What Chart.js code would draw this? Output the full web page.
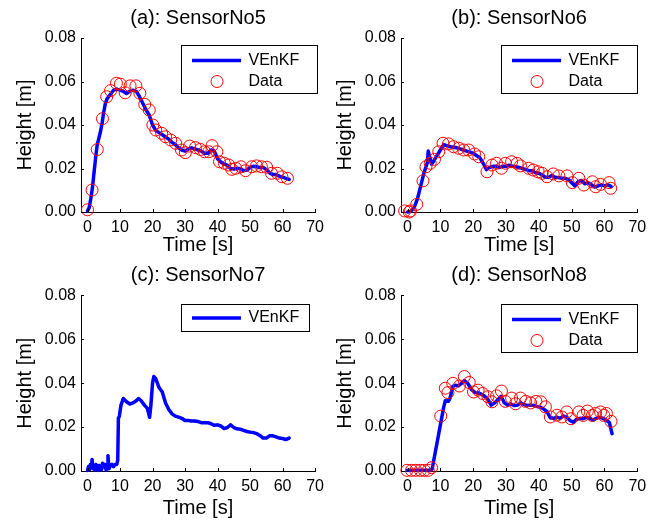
<!DOCTYPE html>
<html>
<head>
<meta charset="utf-8">
<script src="https://cdn.jsdelivr.net/npm/chart.js@4.4.1/dist/chart.umd.min.js"></script>
<style>
  body { margin: 0; background: #fff; }
  #wrap { position: relative; width: 659px; height: 525px; overflow: hidden; background: #fff; }
  canvas { position: absolute; }
</style>
</head>
<body>
<div id="wrap">
  <canvas id="chartA" width="330" height="262" style="left:0;top:0"></canvas>
  <canvas id="chartB" width="339" height="262" style="left:320px;top:0"></canvas>
  <canvas id="chartC" width="330" height="263" style="left:0;top:262px"></canvas>
  <canvas id="chartD" width="339" height="263" style="left:320px;top:262px"></canvas>
</div>
<script>
const xTicks = [0, 10, 20, 30, 40, 50, 60, 70];
const yTicks = [0, 0.02, 0.04, 0.06, 0.08];

// (a) SensorNo5
const lineTimeA = [0, 0.5, 1, 1.5, 2, 2.5, 3, 3.5, 4, 4.5, 5, 5.5, 6, 7, 8, 9, 10, 11, 12, 13, 14, 15, 16, 17, 18, 19, 20, 21, 22, 23, 24, 25, 26, 27, 28, 29, 30, 31, 32, 33, 34, 35, 36, 37, 38, 39, 40, 41, 42, 43, 44, 45, 46, 47, 48, 49, 50, 51, 52, 53, 54, 55, 56, 57, 58, 59, 60, 61, 62];
const lineA = [0.0005, 0.002, 0.006, 0.011, 0.018, 0.025, 0.031, 0.034, 0.037, 0.041, 0.046, 0.050, 0.052, 0.054, 0.056, 0.0565, 0.056, 0.0555, 0.0545, 0.0555, 0.056, 0.0555, 0.053, 0.050, 0.047, 0.0445, 0.040, 0.0375, 0.0365, 0.0355, 0.0345, 0.0335, 0.032, 0.031, 0.0295, 0.0285, 0.028, 0.029, 0.0295, 0.029, 0.0285, 0.028, 0.027, 0.027, 0.0285, 0.028, 0.0245, 0.023, 0.022, 0.0215, 0.020, 0.0198, 0.020, 0.020, 0.019, 0.0192, 0.0205, 0.021, 0.0208, 0.0205, 0.0205, 0.0195, 0.018, 0.0172, 0.0172, 0.0165, 0.016, 0.0155, 0.015];
const dataTimeA = [0, 1.4, 3.0, 4.6, 5.9, 7.1, 8.9, 10.1, 11.6, 13.1, 14.9, 16.1, 17.6, 19.0, 20.1, 21.0, 22.8, 24.0, 25.6, 27.1, 28.9, 30.1, 31.4, 33.2, 34.7, 36.0, 37.3, 38.3, 39.8, 40.6, 42.1, 43.4, 44.4, 45.6, 47.2, 48.6, 50.5, 52.0, 53.5, 55.1, 56.6, 58.4, 59.8, 61.5];
const dataA = [0.001, 0.0101, 0.0287, 0.0429, 0.053, 0.0558, 0.0592, 0.0588, 0.0548, 0.058, 0.058, 0.0546, 0.0495, 0.0469, 0.040, 0.0377, 0.0362, 0.0346, 0.0331, 0.0316, 0.0285, 0.0273, 0.0303, 0.0296, 0.0288, 0.0277, 0.0277, 0.0305, 0.0277, 0.0231, 0.0224, 0.0216, 0.0196, 0.0201, 0.0208, 0.019, 0.0208, 0.0212, 0.0208, 0.0206, 0.0178, 0.0178, 0.0162, 0.0155];

// (b) SensorNo6
const lineTimeB = [0, 1, 2, 3, 4, 5, 6, 6.3, 6.8, 7.3, 8, 9, 10, 11, 12, 13, 14, 15, 16, 17, 18, 19, 20, 21, 22, 23, 24, 25, 26, 27, 28, 29, 30, 31, 32, 33, 34, 35, 36, 37, 38, 39, 40, 41, 42, 43, 44, 45, 46, 47, 48, 49, 50, 51, 52, 53, 54, 55, 56, 57, 58, 59, 60, 61, 62];
const lineB = [0.0, 0.0003, 0.002, 0.006, 0.012, 0.018, 0.0225, 0.028, 0.025, 0.022, 0.0235, 0.026, 0.0285, 0.031, 0.0305, 0.030, 0.0298, 0.0295, 0.029, 0.0285, 0.028, 0.0275, 0.027, 0.026, 0.025, 0.0225, 0.0195, 0.0205, 0.021, 0.021, 0.0205, 0.021, 0.021, 0.0215, 0.021, 0.0208, 0.0205, 0.020, 0.0195, 0.019, 0.019, 0.018, 0.0178, 0.017, 0.016, 0.016, 0.0168, 0.016, 0.0158, 0.0155, 0.0155, 0.015, 0.0135, 0.012, 0.014, 0.0145, 0.013, 0.0135, 0.0125, 0.0115, 0.012, 0.0125, 0.012, 0.0125, 0.0118];
const dataTimeB = [-0.9, 0.5, 0.9, 2.8, 4.7, 5.6, 6.9, 8.2, 9.5, 10.8, 12.5, 14.0, 15.6, 17.1, 18.6, 20.4, 21.7, 24.2, 25.7, 27.1, 28.6, 29.8, 31.7, 33.4, 34.4, 36.9, 38.3, 39.8, 41.0, 42.5, 44.4, 46.1, 48.6, 50.2, 52.2, 53.7, 56.3, 57.3, 58.8, 61.4, 61.9];
const dataB = [0.0005, 0, 0.0005, 0.0035, 0.0143, 0.0208, 0.0224, 0.0242, 0.0277, 0.0316, 0.0313, 0.030, 0.0293, 0.0285, 0.0285, 0.0267, 0.0254, 0.0185, 0.0216, 0.0224, 0.0201, 0.0224, 0.0231, 0.0224, 0.0212, 0.0201, 0.0193, 0.0185, 0.0178, 0.0162, 0.0175, 0.0166, 0.0166, 0.0135, 0.0155, 0.0124, 0.0139, 0.0116, 0.0127, 0.0135, 0.0109];

// (c) SensorNo7 (no measured data)
const lineTimeC = [0, 0.3, 0.6, 0.9, 1.2, 1.4, 1.7, 2.0, 2.3, 2.6, 3.0, 3.3, 3.6, 4.0, 4.3, 4.6, 5.0, 5.3, 5.7, 6.0, 6.3, 6.6, 7.0, 7.5, 8.0, 8.5, 9.0, 9.3, 9.5, 9.8, 10.3, 11, 12, 13, 14, 15, 15.7, 16.5, 17.5, 18.4, 19.1, 19.5, 20.0, 20.4, 21, 22, 23, 24, 25, 26, 27, 28, 29, 30, 31, 32, 33, 34, 35, 36, 37, 38, 39, 40, 41, 42, 43, 44, 45, 46, 47, 48, 49, 50, 51, 52, 53, 54, 55, 56, 57, 58, 59, 60, 61, 62];
const lineC = [0.0003, 0.002, 0.0005, 0.003, 0.0015, 0.0052, 0.001, 0.002, 0.0005, 0.003, 0.002, 0.0003, 0.0025, 0.002, 0.0005, 0.0035, 0.002, 0.003, 0.0005, 0.003, 0.007, 0.001, 0.0025, 0.003, 0.002, 0.003, 0.003, 0.005, 0.024, 0.025, 0.030, 0.033, 0.0315, 0.0305, 0.031, 0.032, 0.033, 0.032, 0.030, 0.0285, 0.0245, 0.030, 0.040, 0.043, 0.042, 0.038, 0.036, 0.031, 0.028, 0.026, 0.025, 0.0245, 0.024, 0.023, 0.023, 0.0228, 0.0228, 0.0225, 0.022, 0.022, 0.022, 0.0215, 0.0208, 0.021, 0.0205, 0.0193, 0.0198, 0.021, 0.0198, 0.0192, 0.019, 0.0185, 0.018, 0.0177, 0.0175, 0.017, 0.0162, 0.015, 0.015, 0.016, 0.016, 0.0155, 0.015, 0.0148, 0.0143, 0.015];

// (d) SensorNo8
const lineTimeD = [0, 2, 4, 6, 7, 7.5, 8, 9, 10, 11, 11.5, 12.5, 13, 13.8, 14.5, 15.5, 16.5, 17.3, 18.3, 19.5, 20.5, 21.5, 22.5, 23.5, 24.5, 25.5, 26.5, 27.5, 28.5, 29.5, 30.5, 31.5, 32.5, 33.5, 34.5, 35.5, 36.5, 37.5, 38.5, 39.5, 40.5, 41.5, 42.5, 43.5, 44.5, 45.5, 46.5, 47.5, 48.5, 49.5, 50.5, 51.5, 52.5, 53.5, 54.5, 55.5, 56.5, 57.5, 58.5, 59.5, 60.5, 61.5, 62.3];
const lineD = [0.0003, 0.0003, 0.0003, 0.0003, 0.0004, 0.001, 0.005, 0.013, 0.021, 0.029, 0.032, 0.0318, 0.0335, 0.0385, 0.039, 0.0388, 0.040, 0.0412, 0.040, 0.037, 0.0358, 0.0355, 0.035, 0.034, 0.0325, 0.030, 0.031, 0.0325, 0.034, 0.031, 0.030, 0.0305, 0.0298, 0.030, 0.031, 0.0302, 0.0298, 0.030, 0.0298, 0.0293, 0.029, 0.0282, 0.027, 0.0242, 0.024, 0.0245, 0.024, 0.025, 0.0245, 0.023, 0.0222, 0.0235, 0.024, 0.0238, 0.0245, 0.024, 0.0232, 0.024, 0.0245, 0.024, 0.0232, 0.022, 0.017];
const dataTimeD = [-0.2, 1.2, 2.5, 3.9, 5.1, 6.3, 7.3, 10.1, 11.5, 12.3, 13.8, 15.8, 17.3, 18.8, 20.1, 21.5, 22.9, 24.5, 25.7, 27.1, 28.6, 29.8, 31.7, 32.9, 34.4, 36.0, 37.5, 39.1, 40.6, 42.0, 43.5, 45.5, 47.0, 48.5, 49.8, 52.2, 53.5, 54.8, 56.3, 57.3, 58.8, 59.8, 60.6, 62.0];
const dataD = [0.0003, 0.0003, 0.0003, 0.0003, 0.0003, 0.0003, 0.0015, 0.025, 0.0377, 0.0357, 0.0399, 0.0387, 0.0430, 0.0403, 0.0360, 0.0368, 0.0353, 0.0338, 0.0315, 0.0342, 0.0364, 0.0317, 0.0332, 0.0306, 0.0332, 0.0317, 0.0310, 0.0317, 0.0315, 0.0292, 0.0246, 0.0254, 0.0246, 0.0269, 0.0238, 0.0269, 0.0253, 0.0273, 0.0253, 0.0262, 0.0269, 0.0253, 0.0262, 0.0226];

const FONT = '"Liberation Sans", Arial, sans-serif';

function toPoints(ts, vs) {
  return ts.map((t, i) => ({ x: t, y: vs[i] }));
}

// title above each panel
const panelTitle = {
  id: "panelTitle",
  afterDraw(chart, args, opts) {
    const { ctx, chartArea } = chart;
    ctx.save();
    ctx.fillStyle = "#000";
    ctx.font = "20px " + FONT;
    ctx.textAlign = "center";
    ctx.textBaseline = "middle";
    ctx.fillText(opts.text, (chartArea.left + chartArea.right) / 2, opts.y);
    ctx.restore();
  },
};

// inward tick marks like matlab
const inwardTicks = {
  id: "inwardTicks",
  afterDatasetsDraw(chart) {
    const { ctx, chartArea, scales } = chart;
    ctx.save();
    ctx.strokeStyle = "#000";
    ctx.lineWidth = 1;
    ctx.beginPath();
    scales.x.ticks.forEach((t) => {
      const px = Math.round(scales.x.getPixelForValue(t.value)) + 0.5;
      ctx.moveTo(px, chartArea.bottom);
      ctx.lineTo(px, chartArea.bottom - 3);
    });
    scales.y.ticks.forEach((t) => {
      const py = Math.round(scales.y.getPixelForValue(t.value)) + 0.5;
      ctx.moveTo(chartArea.left, py);
      ctx.lineTo(chartArea.left + 3, py);
    });
    ctx.stroke();
    ctx.restore();
  },
};

// boxed legend in the top right corner
const boxLegend = {
  id: "boxLegend",
  afterDraw(chart, args, opts) {
    const { ctx, chartArea } = chart;
    const sets = chart.data.datasets;
    const x0 = Math.round(chartArea.left + 100) + 0.5;
    const y0 = Math.round(chartArea.top + opts.dy) + 0.5;
    const h = sets.length > 1 ? 48 : 27;
    ctx.save();
    ctx.fillStyle = "#fff";
    ctx.fillRect(x0, y0, opts.width, h);
    ctx.strokeStyle = "#000";
    ctx.lineWidth = 1;
    ctx.strokeRect(x0, y0, opts.width, h);
    ctx.font = "16px " + FONT;
    ctx.textBaseline = "middle";
    ctx.fillStyle = "#000";
    sets.forEach((ds, i) => {
      const ry = y0 + (sets.length > 1 ? 15 + i * 21 : 13.5);
      if (ds.showLine === false) {
        ctx.strokeStyle = ds.borderColor;
        ctx.lineWidth = 1;
        ctx.beginPath();
        ctx.arc(x0 + 35.5, ry, ds.pointRadius, 0, Math.PI * 2);
        ctx.stroke();
      } else {
        ctx.strokeStyle = ds.borderColor;
        ctx.lineWidth = ds.borderWidth;
        ctx.beginPath();
        ctx.moveTo(x0 + 10.5, ry);
        ctx.lineTo(x0 + 59.5, ry);
        ctx.stroke();
      }
      ctx.fillText(ds.label, x0 + 67, ry);
    });
    ctx.restore();
  },
};

function buildPanel(id, cfg) {
  const canvas = document.getElementById(id);
  const W = canvas.width, H = canvas.height;
  const datasets = [
    {
      label: "VEnKF",
      data: toPoints(cfg.lineT, cfg.lineV),
      showLine: true,
      borderColor: "#0000ff",
      backgroundColor: "#0000ff",
      borderWidth: 3.5,
      borderJoinStyle: "round",
      borderCapStyle: "round",
      pointRadius: 1.3,
      pointBorderWidth: 0,
      order: 2,
      clip: false,
    },
  ];
  if (cfg.dataT) {
    datasets.push({
      label: "Data",
      data: toPoints(cfg.dataT, cfg.dataV),
      showLine: false,
      borderColor: "#ff0000",
      backgroundColor: "rgba(0,0,0,0)",
      pointRadius: 6,
      pointBorderWidth: 1,
      order: 1,
      clip: false,
    });
  }
  const tickFont = { family: FONT, size: 16 };
  const titleFont = { family: FONT, size: 20 };
  new Chart(canvas, {
    type: "scatter",
    data: { datasets },
    options: {
      responsive: false,
      animation: false,
      devicePixelRatio: 1,
      layout: { padding: { top: cfg.top, left: 0, right: W - 317.3, bottom: 0 } },
      plugins: {
        legend: { display: false },
        tooltip: { enabled: false },
        panelTitle: { text: cfg.title, y: cfg.titleY },
        boxLegend: { dy: cfg.legendDy, width: cfg.legendW },
      },
      scales: {
        x: {
          type: "linear",
          min: -2,
          max: 70,
          afterBuildTicks: (s) => { s.ticks = xTicks.map((v) => ({ value: v })); },
          afterFit: (s) => { s.height = H - cfg.bottom; },
          grid: { display: false, drawTicks: false },
          border: { display: true, color: "#000", width: 1 },
          ticks: { font: tickFont, color: "#000", padding: 6, maxRotation: 0 },
          title: { display: true, text: "Time [s]", font: titleFont, color: "#000", padding: { top: 0, bottom: 4.3 } },
        },
        y: {
          type: "linear",
          min: 0,
          max: 0.08,
          afterBuildTicks: (s) => { s.ticks = yTicks.map((v) => ({ value: v })); },
          afterFit: (s) => { s.width = 81; },
          grid: { display: false, drawTicks: false },
          border: { display: true, color: "#000", width: 1 },
          ticks: { font: tickFont, color: "#000", padding: 5, callback: (v) => v.toFixed(2) },
          title: { display: true, text: "Height [m]", font: titleFont, color: "#000", padding: { top: 13, bottom: 0 } },
        },
      },
    },
    plugins: [panelTitle, inwardTicks, boxLegend],
  });
}

buildPanel("chartA", { title: "(a): SensorNo5", titleY: 18, top: 38, bottom: 212, legendDy: 7, legendW: 136, lineT: lineTimeA, lineV: lineA, dataT: dataTimeA, dataV: dataA });
buildPanel("chartB", { title: "(b): SensorNo6", titleY: 18, top: 38, bottom: 212, legendDy: 7, legendW: 136, lineT: lineTimeB, lineV: lineB, dataT: dataTimeB, dataV: dataB });
buildPanel("chartC", { title: "(c): SensorNo7", titleY: 13.5, top: 33.3, bottom: 209, legendDy: 8.4, legendW: 128, lineT: lineTimeC, lineV: lineC });
buildPanel("chartD", { title: "(d): SensorNo8", titleY: 13.5, top: 33.3, bottom: 209, legendDy: 8.4, legendW: 136, lineT: lineTimeD, lineV: lineD, dataT: dataTimeD, dataV: dataD });
</script>
</body>
</html>
